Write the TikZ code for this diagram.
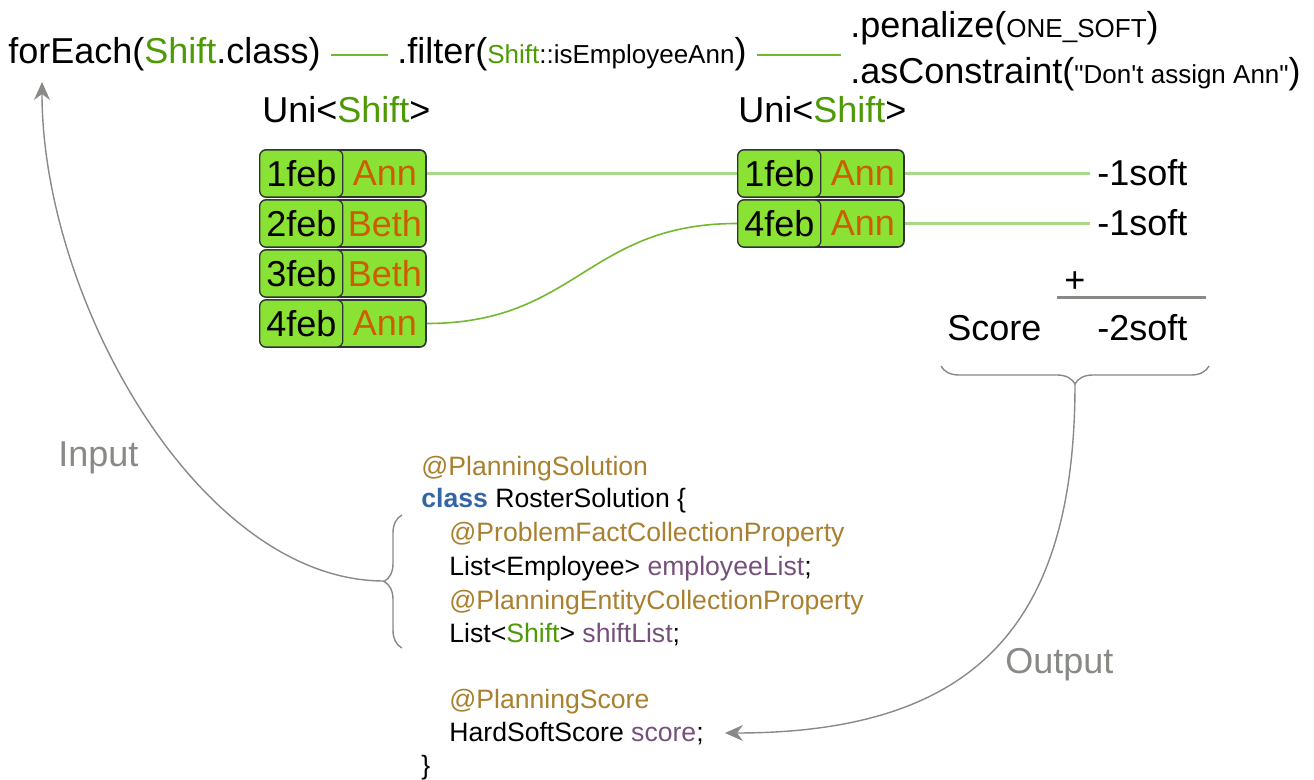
\documentclass[tikz,border=0pt]{standalone}
\usepackage{fontspec}
\setmainfont{Liberation Sans}
\usepackage{tikz}
\usetikzlibrary{arrows.meta, positioning, decorations.pathreplacing, calc}
\definecolor{boxGreen}{HTML}{8AE234}
\definecolor{shiftGreen}{HTML}{4E9A06}
\definecolor{whoOrange}{HTML}{CE5C00}
\definecolor{annoBrown}{HTML}{A9802F}
\definecolor{kwBlue}{HTML}{3465A4}
\definecolor{varPurple}{HTML}{75507B}
\definecolor{flowGray}{HTML}{888A85}
\definecolor{linkGreen}{HTML}{A8D98A}
\definecolor{edgeGreen}{HTML}{73B82F}
\definecolor{inkDark}{HTML}{2E3436}
\newcommand{\bigf}{\fontsize{18pt}{21pt}\selectfont}
\newcommand{\smallf}{\fontsize{13pt}{15pt}\selectfont}
\newcommand{\codef}{\fontsize{13.3pt}{15pt}\selectfont}
\newcommand{\Sh}{\textcolor{shiftGreen}{Shift}}
\tikzset{
  txt/.style={inner sep=0pt, font=\bigf},
  codeL/.style={inner sep=0pt, anchor=base west, font=\codef},
  shiftRow/.style={draw=inkDark, fill=boxGreen, rounded corners=3pt,
                   line width=0.8pt, minimum width=83pt,
                   minimum height=23.5pt, inner sep=0pt},
  dayCell/.style={draw=inkDark, fill=boxGreen, rounded corners=3pt,
                  line width=0.6pt, minimum width=41.5pt,
                  minimum height=23.5pt, inner sep=0pt, font=\bigf},
  whoCell/.style={inner sep=0pt, font=\bigf, text=whoOrange},
  link/.style={draw=linkGreen, line width=1.2pt},
  linkC/.style={draw=edgeGreen, line width=0.8pt},
  topLink/.style={draw=edgeGreen, line width=1pt,
                  shorten <=5pt, shorten >=4.5pt},
  sumLine/.style={draw=flowGray, line width=1.5pt},
  flowA/.style={draw=flowGray, line width=0.7pt,
                -{Stealth[length=9pt, width=8pt, inset=3pt]}},
  braceG/.style={draw=flowGray, line width=0.7pt, decorate,
                 decoration={brace, amplitude=9pt}},
}
\begin{document}
\begin{tikzpicture}[x=0.5pt, y=-0.5pt]
    \useasboundingbox (0,0) rectangle (1314,780);
    %% stream pipeline
    \node[txt, anchor=base west] (each) at (8,64) {forEach(\Sh.class)};
    \node[txt, anchor=base west] (filter) at (397,64)
      {.filter({\smallf\Sh::isEmployeeAnn})};
    \node[txt, anchor=base west] (pen) at (850,38)
      {.penalize({\smallf ONE\_SOFT})};
    \node[txt, anchor=base west] (cons) at (850,84)
      {.asConstraint({\smallf \textquotedbl Don\textquotesingle t assign Ann\textquotedbl})};
    \draw[topLink] (each.east) -- (each.east -| filter.west);
    \draw[topLink] (filter.east) -- (filter.east -| pen.west);
    %% tuples
    \node[txt, anchor=base west] (uniL) at (262,123) {Uni<\Sh>};
    \node[txt, anchor=base west] (uniR) at (738,123) {Uni<\Sh>};
    \foreach \d/\w [count=\i] in {1feb/Ann, 2feb/Beth, 3feb/Beth, 4feb/Ann} {
      \node[shiftRow] (row\i) at (343, 123.5+50*\i) {};
      \node[dayCell, anchor=west] (day\i) at (row\i.west) {\d};
      \node[whoCell] (who\i) at ($(row\i.center)!0.5!(row\i.east)$) {\w};
    }
    \foreach \d [count=\i] in {1feb, 4feb} {
      \node[shiftRow] (rrow\i) at (821, 123.5+50*\i) {};
      \node[dayCell, anchor=west] (rday\i) at (rrow\i.west) {\d};
      \node[whoCell] (rwho\i) at ($(rrow\i.center)!0.5!(rrow\i.east)$) {Ann};
    }
    \draw[link] (row1.east) -- (rrow1.west);
    \draw[linkC] (row4.east) .. controls +(150,0) and +(-150,0) .. (rrow2.west);
    %% penalties and score
    \node[txt, anchor=base west] (soft1) at (1097,186) {-1soft};
    \node[txt, anchor=base west] (soft2) at (1097,236) {-1soft};
    \draw[link, shorten >=3.5pt] (rrow1.east) -- (rrow1.east -| soft1.west);
    \draw[link, shorten >=3.5pt] (rrow2.east) -- (rrow2.east -| soft2.west);
    \node[txt] (plus) at (1075,282) {+};
    \draw[sumLine] (1057,298) -- (1206,298);
    \node[txt, anchor=base west] (score) at (947,341) {Score};
    \node[txt, anchor=base west] (total) at (1097,341) {-2soft};
    %% solution class
    \node[codeL, text=annoBrown] (c1) at (421,476) {@PlanningSolution};
    \node[codeL] (c2) at (421,508)
      {\textcolor{kwBlue}{\textbf{class}} RosterSolution \{};
    \node[codeL, text=annoBrown] (c3) at (449,542)
      {@ProblemFactCollectionProperty};
    \node[codeL] (c4) at (449,576)
      {List<Employee> \textcolor{varPurple}{employeeList};};
    \node[codeL, text=annoBrown] (c5) at (449,610)
      {@PlanningEntityCollectionProperty};
    \node[codeL] (c6) at (449,643)
      {List<\Sh> \textcolor{varPurple}{shiftList};};
    \node[codeL, text=annoBrown] (c7) at (449,709) {@PlanningScore};
    \node[codeL] (c8) at (449,742)
      {HardSoftScore \textcolor{varPurple}{score};};
    \node[codeL] (c9) at (421,775) {\}};
    %% input and output
    \draw[braceG] (402,648) -- (402,515);
    \coordinate (inTip) at (384,581);
    \coordinate (inEnd) at (42,82);
    \draw[flowA] (inTip) .. controls (200,581) and (42,300) .. (inEnd);
    \node[txt, text=flowGray, anchor=base west] (inLbl) at (58,467) {Input};
    \draw[braceG, decoration={brace, amplitude=9pt, mirror}]
      (941,366) -- (1209,366);
    \coordinate (outTip) at (1075,384);
    \coordinate (outEnd) at (725,733);
    \draw[flowA] (outTip) .. controls (1075,620) and (980,733) .. (outEnd);
    \node[txt, text=flowGray, anchor=base west] (outLbl) at (1005,674) {Output};
\end{tikzpicture}
\end{document}
